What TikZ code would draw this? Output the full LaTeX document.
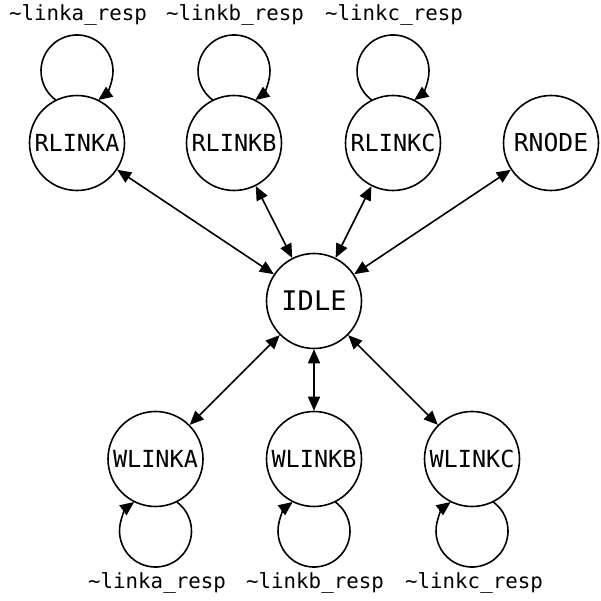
\documentclass[tikz,border=0pt]{standalone}
\usepackage{fontspec}
\newfontfamily\dvm{DejaVu Sans Mono}
\usetikzlibrary{arrows.meta}
\begin{document}
\begin{tikzpicture}[x=1pt,y=1pt,
  st/.style={circle,draw,line width=1.6pt,minimum size=95pt,inner sep=0pt,font=\dvm\fontsize{23.5}{28}\selectfont},
  lbl/.style={font=\dvm\fontsize{20.8}{24}\selectfont,inner sep=0pt},
  tip/.style={-{Triangle[length=14pt,width=12pt]}},
  bi/.style={{Triangle[length=14pt,width=12pt]}-{Triangle[length=14pt,width=12pt]}},
  every path/.style={line width=1.6pt}]
\useasboundingbox (0,0) rectangle (600,601);
\node[st] (RLINKA) at (77,458) {RLINKA};
\node[st] (RLINKB) at (234,458) {RLINKB};
\node[st] (RLINKC) at (393,458) {RLINKC};
\node[st,font=\dvm\fontsize{24.7}{28}\selectfont] (RNODE) at (551,458) {RNODE};
\node[st,font=\dvm\fontsize{27}{30}\selectfont] (IDLE) at (314,300) {IDLE};
\node[st] (WLINKA) at (155.5,142) {WLINKA};
\node[st] (WLINKB) at (314,142) {WLINKB};
\node[st] (WLINKC) at (472,142) {WLINKC};
\foreach \n in {RLINKA,RLINKB,RLINKC,RNODE,WLINKA,WLINKB,WLINKC}
  \draw[bi] (IDLE) -- (\n);
\foreach \n in {RLINKA,RLINKB,RLINKC}
  \draw[tip] ([shift={(-21.3,43)}]\n.center) arc[start angle=233.7,end angle=-53.7,radius=36];
\foreach \n in {WLINKA,WLINKB,WLINKC}
  \draw[tip] ([shift={(21.3,-43)}]\n.center) arc[start angle=53.7,end angle=-233.7,radius=36];
\node[lbl] (la) at (78,586) {\char`\~linka\_resp};
\node[lbl] (lb) at (235,586) {\char`\~linkb\_resp};
\node[lbl] (lc) at (394,586) {\char`\~linkc\_resp};
\node[lbl] (lwa) at (157,18) {\char`\~linka\_resp};
\node[lbl] (lwb) at (315,18) {\char`\~linkb\_resp};
\node[lbl] (lwc) at (474,18) {\char`\~linkc\_resp};
\end{tikzpicture}
\end{document}
